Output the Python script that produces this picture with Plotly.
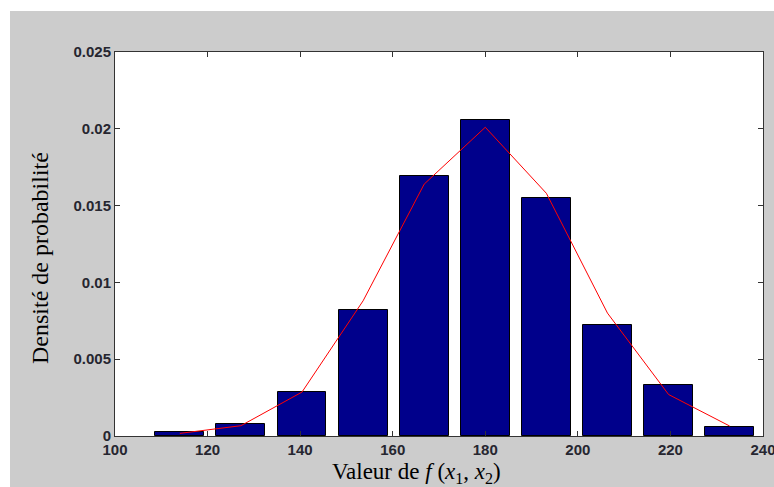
import plotly.graph_objects as go

# Data
bin_centers = [114.0, 127.2, 140.4, 153.6, 166.8, 180.0, 193.2, 206.4, 219.6, 232.8]
density = [0.00028, 0.0008, 0.00285, 0.0082, 0.0169, 0.0206, 0.0155, 0.0072, 0.0033, 0.00057]
fit_density = [0.00017, 0.00067, 0.00286, 0.0088, 0.0164, 0.0201, 0.0158, 0.0080, 0.0027, 0.00065]
x_ticks = [100, 120, 140, 160, 180, 200, 220, 240]
y_ticks = [0, 0.005, 0.01, 0.015, 0.02, 0.025]
y_tick_labels = ["0", "0.005", "0.01", "0.015", "0.02", "0.025"]

bin_width = 13.2 * 0.8

fig = go.Figure()
fig.add_trace(go.Bar(
    x=bin_centers, y=density, width=[bin_width] * len(bin_centers),
    marker=dict(color="#00008B", line=dict(color="#000000", width=1)),
    showlegend=False, hoverinfo="skip",
))
fig.add_trace(go.Scatter(
    x=bin_centers, y=fit_density, mode="lines",
    line=dict(color="#ff0000", width=1), showlegend=False, hoverinfo="skip",
))

tick_font = dict(family="Liberation Sans, Arial, sans-serif", size=15, color="#262630",
                 weight="bold")
axis_common = dict(
    showgrid=False, zeroline=False, showline=True, linecolor="#333333", linewidth=1,
    ticks="inside", ticklen=5, tickcolor="#333333", tickwidth=1, mirror="ticks",
    tickfont=tick_font, ticklabeloverflow="allow", automargin=False,
)

fig.update_xaxes(range=[100, 240], tickvals=x_ticks, ticktext=[str(v) for v in x_ticks],
                 **axis_common)
fig.update_yaxes(range=[0, 0.025], tickvals=y_ticks, ticktext=y_tick_labels, **axis_common)

fig.update_layout(
    width=774, height=487,
    margin=dict(l=115, r=11, t=52, b=51, autoexpand=False),
    paper_bgcolor="#cccccc", plot_bgcolor="#ffffff",
    bargap=0,
    shapes=[
        dict(type="rect", xref="paper", yref="paper", x0=-0.4, x1=1.4,
             y0=(436 - 11) / 384, y1=1.4, fillcolor="#ffffff", line=dict(width=0), layer="above"),
        dict(type="rect", xref="paper", yref="paper", x0=-0.4, x1=(10 - 115) / 648,
             y0=-0.4, y1=1.4, fillcolor="#ffffff", line=dict(width=0), layer="above"),
    ],
    annotations=[
        dict(text="Densité de probabilité", xref="paper", yref="paper",
             x=(40 - 115) / 648, y=(436 - 258) / 384, textangle=-90, showarrow=False,
             xanchor="center", yanchor="middle",
             font=dict(family="Liberation Serif, Times New Roman, serif", size=24, color="#000000")),
        dict(text="Valeur de <i>f</i> (<i>x</i><sub>1</sub>, <i>x</i><sub>2</sub>)",
             xref="paper", yref="paper",
             x=(416 - 115) / 648, y=(436 - 473) / 384, showarrow=False,
             xanchor="center", yanchor="middle",
             font=dict(family="Liberation Serif, Times New Roman, serif", size=23, color="#000000")),
    ],
)

fig.write_html("out.html")
